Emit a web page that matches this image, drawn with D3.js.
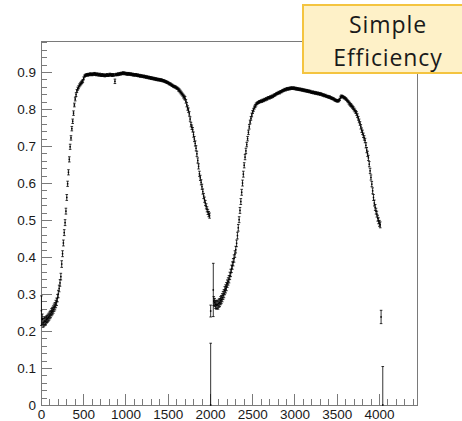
<!DOCTYPE html>
<html>
<head>
<meta charset="utf-8">
<script src="https://cdn.jsdelivr.net/npm/d3@7"></script>
<style>
  html, body { margin: 0; padding: 0; background: #fff; }
  svg { display: block; }
</style>
</head>
<body>
<script>
// ---------------- DATA ----------------
const binWidth = 10;
// first plateau: bin centres start at 5
const seg1Start = 5;
const seg1Eff = [
  0.255,0.232,0.222,0.224,0.227,0.226,0.231,0.233,0.236,0.239,
  0.243,0.246,0.251,0.254,0.258,0.263,0.267,0.273,0.279,0.289,
  0.300,0.315,0.330,0.347,0.381,0.409,0.438,0.466,0.493,0.524,
  0.561,0.598,0.629,0.664,0.698,0.722,0.747,0.767,0.789,0.811,
  0.827,0.839,0.849,0.855,0.859,0.864,0.867,0.870,0.873,0.876,
  0.883,0.889,0.891,
  0.892,0.893,0.892,0.894,0.893,0.895,0.894,0.893,0.895,0.894,
  0.896,0.894,0.893,0.895,0.893,0.892,0.894,0.892,0.891,0.893,
  0.891,0.892,0.890,0.892,0.891,0.893,0.891,0.892,0.894,0.892,
  0.893,0.891,0.893,0.892,0.875,0.893,0.894,0.893,0.895,0.894,
  0.896,0.895,0.897,0.896,0.898,0.896,0.897,0.895,0.896,0.894,
  0.896,0.895,0.894,0.895,0.893,0.894,0.892,
  0.893,0.892,0.893,0.891,0.892,0.890,0.891,0.889,0.890,0.889,
  0.888,0.889,0.887,0.888,0.886,0.887,0.885,0.886,0.884,0.885,
  0.883,0.884,0.882,0.883,0.881,0.882,0.880,0.881,0.879,0.880,
  0.879,0.878,0.879,0.877,0.877,0.876,0.875,0.874,0.873,0.872,
  0.871,0.869,0.868,0.867,0.865,0.864,0.862,0.861,0.860,0.859,
  0.857,0.856,0.853,0.851,0.848,0.845,0.842,0.839,0.835,0.832,
  0.829,0.821,0.812,0.803,0.797,0.787,0.773,0.758,0.751,0.744,
  0.731,0.719,0.707,0.694,0.679,0.661,0.645,0.625,0.614,0.602,
  0.590,0.577,0.565,0.555,0.546,0.537,0.529,0.522,0.516,0.512
];
// errors in units of 0.001
const seg1Err = [
  40,14,12,11,11,10,10,10,10,10,
  10,10,10,10,10,10,10,10,10,10,
  10,9,9,9,9,8,8,8,8,8,
  8,7,7,7,7,6,6,6,6,5,
  5,5,4,4,4,4,4,4,4,4,
  4,3,3,
  3,3,3,3,3,3,3,3,3,3,
  3,3,3,3,3,3,3,3,3,3,
  3,3,3,3,3,3,3,3,3,3,
  3,3,3,3,6,3,3,3,3,3,
  3,3,3,3,3,3,3,3,3,3,
  3,3,3,3,3,3,3,
  3,3,3,3,3,3,3,3,3,3,
  3,3,3,3,3,3,3,3,3,3,
  3,3,3,3,3,3,3,3,3,3,
  3,3,3,3,3,3,3,3,3,3,
  3,3,3,3,3,3,3,3,3,3,
  3,3,4,4,4,4,4,4,5,5,
  5,5,6,6,6,6,6,6,6,6,
  7,7,7,7,7,7,7,7,7,7,
  7,7,7,7,7,7,7,7,7,7
];
// second plateau: bin centres start at 2045
const seg2Start = 2045;
const seg2Eff = [
  0.281,0.277,0.272,0.270,0.272,0.270,0.275,0.277,0.282,0.285,
  0.290,0.296,0.301,0.309,0.314,0.320,0.328,0.334,0.340,0.349,
  0.357,0.368,0.377,0.386,0.396,0.408,0.420,0.437,0.458,0.479,
  0.501,0.526,0.550,0.575,0.600,0.624,0.648,0.670,0.687,0.704,
  0.720,0.737,0.752,0.765,0.775,0.784,0.792,0.798,0.804,0.808,
  0.812,0.815,0.817,0.818,0.820,0.820,0.822,0.821,0.824,0.823,
  0.826,0.825,0.828,0.827,0.830,0.831,0.830,0.833,0.832,0.835,
  0.834,0.837,0.838,0.839,0.841,0.842,0.843,0.845,0.844,0.847,
  0.847,0.849,0.850,0.851,0.853,0.852,0.854,0.855,0.854,0.856,
  0.855,0.857,0.856,0.857,0.856,0.857,0.855,0.856,0.854,0.855,
  0.854,0.853,0.854,0.852,0.853,0.851,0.852,0.850,0.851,0.849,
  0.850,0.848,0.849,0.847,0.848,0.846,0.845,0.846,0.844,0.845,
  0.843,0.844,0.842,0.843,0.841,0.842,0.840,0.841,0.839,0.838,
  0.838,0.836,0.837,0.835,0.834,0.834,0.832,0.833,0.831,0.830,
  0.829,0.828,0.827,0.825,0.824,0.823,0.822,0.822,0.823,0.826,
  0.832,0.835,0.834,0.833,0.831,0.830,0.828,0.826,0.823,0.820,
  0.817,0.814,0.811,0.809,0.806,0.803,0.799,0.796,0.792,0.788,
  0.782,0.775,0.768,0.761,0.752,0.743,0.737,0.729,0.722,0.715,
  0.702,0.689,0.679,0.668,0.651,0.633,0.615,0.597,0.579,0.561,
  0.546,0.534,0.524,0.516,0.505,0.498,0.491,0.487
];
const seg2Err = [
  12,11,11,11,11,11,11,11,11,11,
  11,11,11,11,11,11,10,10,10,10,
  10,10,10,10,10,9,9,9,9,9,
  8,8,8,8,8,8,7,7,7,6,
  6,6,6,5,5,5,4,4,4,4,
  4,3,3,3,3,3,3,3,3,3,
  3,3,3,3,3,3,3,3,3,3,
  3,3,3,3,3,3,3,3,3,3,
  3,3,3,3,3,3,3,3,3,3,
  3,3,3,3,3,3,3,3,3,3,
  3,3,3,3,3,3,3,3,3,3,
  3,3,3,3,3,3,3,3,3,3,
  3,3,3,3,3,3,3,3,3,3,
  3,3,3,3,3,3,3,3,3,3,
  3,3,3,3,3,3,3,3,3,3,
  3,3,3,3,3,3,3,3,3,3,
  4,4,4,4,4,4,4,4,4,5,
  5,5,5,5,6,6,6,6,6,6,
  7,7,7,7,7,7,7,7,8,8,
  8,8,8,8,8,8,8,8
];
// isolated low-statistics bins near the two gaps
const extraX   = [2008, 2008, 2039, 4025, 4045];
const extraEff = [0.000, 0.254, 0.311, 0.238, 0.000];
const extraLo  = [0.000, 0.016, 0.072, 0.018, 0.000];
const extraHi  = [0.167, 0.016, 0.072, 0.018, 0.104];

const xTickValues = [0, 500, 1000, 1500, 2000, 2500, 3000, 3500, 4000];
const xTickLabels = ["0", "500", "1000", "1500", "2000", "2500", "3000", "3500", "4000"];
const yTickValues = [0, 0.1, 0.2, 0.3, 0.4, 0.5, 0.6, 0.7, 0.8, 0.9];
const yTickLabels = ["0", "0.1", "0.2", "0.3", "0.4", "0.5", "0.6", "0.7", "0.8", "0.9"];
const xMinorStep = 100;
const yMinorStep = 0.02;
const xDomain = [0, 4450];
const yDomain = [0, 0.984];
const titleLines = ["Simple", "Efficiency"];

(function () {
// ---------------- BUILD POINTS ----------------
const points = [];
seg1Eff.forEach((e, i) => points.push({ x: seg1Start + i * binWidth, e, lo: seg1Err[i] / 1000, hi: seg1Err[i] / 1000 }));
seg2Eff.forEach((e, i) => points.push({ x: seg2Start + i * binWidth, e, lo: seg2Err[i] / 1000, hi: seg2Err[i] / 1000 }));
extraX.forEach((x, i) => points.push({ x, e: extraEff[i], lo: extraLo[i], hi: extraHi[i] }));

// ---------------- DRAW ----------------
const W = 462, H = 421;
const mL = 41, mR = 417, mT = 41, mB = 405;

const svg = d3.select("body").append("svg").attr("width", W).attr("height", H);

const x = d3.scaleLinear().domain(xDomain).range([mL, mR]);
const y = d3.scaleLinear().domain(yDomain).range([mB, mT]);

const axisColor = "#7a7a7a";
const labelFont = "'Liberation Sans', Arial, sans-serif";

// frame
svg.append("rect")
  .attr("x", mL + 0.5).attr("y", mT + 0.5)
  .attr("width", mR - mL).attr("height", mB - mT)
  .attr("fill", "none").attr("stroke", axisColor).attr("stroke-width", 1);

// minor ticks
const xMinor = d3.range(0, xDomain[1] + 1, xMinorStep).filter(v => v % 500 !== 0);
const yMinor = d3.range(0, yDomain[1], yMinorStep).filter((v, i) => i % 5 !== 0);

function styleAxis(g) {
  g.select(".domain").remove();
  g.selectAll(".tick line").attr("stroke", axisColor).attr("shape-rendering", "crispEdges");
  g.selectAll(".tick text").attr("fill", "#1a1a1a").attr("font-family", labelFont).attr("font-size", 13.5);
}

svg.append("g").attr("transform", `translate(0,${mB})`)
  .call(d3.axisBottom(x).tickValues(xMinor).tickSize(-6).tickFormat(""))
  .call(styleAxis);
svg.append("g").attr("transform", `translate(0,${mB})`)
  .call(d3.axisBottom(x).tickValues(xTickValues).tickSize(-11).tickSizeOuter(0).tickPadding(4)
    .tickFormat((d, i) => xTickLabels[i]))
  .call(styleAxis);

svg.append("g").attr("transform", `translate(${mL},0)`)
  .call(d3.axisLeft(y).tickValues(yMinor).tickSize(-6).tickFormat(""))
  .call(styleAxis);
svg.append("g").attr("transform", `translate(${mL},0)`)
  .call(d3.axisLeft(y).tickValues(yTickValues).tickSize(-11).tickSizeOuter(0).tickPadding(5)
    .tickFormat((d, i) => yTickLabels[i]))
  .call(styleAxis);

// points with error bars
const pg = svg.append("g").attr("stroke", "#000").attr("stroke-width", 0.8).attr("fill", "#000");
const cap = 1.3;
points.forEach(p => {
  const px = x(p.x);
  const yHi = y(p.e + p.hi), yLo = y(p.e - p.lo), yc = y(p.e);
  pg.append("line").attr("x1", px).attr("x2", px).attr("y1", yHi).attr("y2", yLo);
  pg.append("line").attr("x1", px - cap).attr("x2", px + cap).attr("y1", yHi).attr("y2", yHi);
  if (p.lo > 0) pg.append("line").attr("x1", px - cap).attr("x2", px + cap).attr("y1", yLo).attr("y2", yLo);
  pg.append("rect").attr("x", px - 0.75).attr("y", yc - 0.75).attr("width", 1.5).attr("height", 1.5).attr("stroke", "none");
});

// title box
const tg = svg.append("g");
tg.append("rect")
  .attr("x", 303).attr("y", 5).attr("width", 175).attr("height", 68)
  .attr("fill", "#fef1c8").attr("stroke", "#f4c440").attr("stroke-width", 2);
tg.selectAll("text").data(titleLines).join("text")
  .attr("x", 388).attr("y", (d, i) => 33 + i * 32.5)
  .attr("text-anchor", "middle")
  .attr("font-family", "'Open Sans', sans-serif")
  .attr("font-size", 23)
  .attr("letter-spacing", 0.9)
  .attr("fill", "#1a1a1a")
  .text(d => d);
})();
</script>
</body>
</html>
